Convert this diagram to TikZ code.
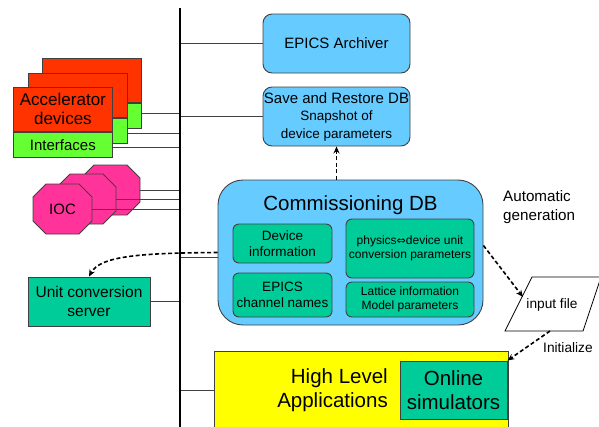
\documentclass[tikz,border=0pt]{standalone}
\usepackage{fontspec}
\setmainfont{Liberation Sans}
\newfontfamily\dejavu{DejaVu Sans}
\usetikzlibrary{arrows.meta}
\definecolor{skyb}{HTML}{66CCFF}
\definecolor{tealg}{HTML}{00CC99}
\definecolor{redd}{HTML}{FF3300}
\definecolor{lgreen}{HTML}{66FF33}
\definecolor{pinkk}{HTML}{FF3399}
\definecolor{edgec}{HTML}{404040}
\definecolor{yell}{HTML}{FFFF00}
\begin{document}
\begin{tikzpicture}[x=1pt,y=-1pt,
  bluebox/.style={draw=edgec, fill=skyb, rounded corners=9pt, line width=0.9pt, inner sep=0pt, align=center},
  greenbox/.style={draw=edgec, fill=tealg, rounded corners=6pt, line width=0.9pt, inner sep=0pt, align=center},
  sqbox/.style={draw=edgec, fill=tealg, line width=0.9pt, inner sep=0pt, align=center},
  redpart/.style={draw=edgec, fill=redd, line width=0.8pt, inner sep=0pt, minimum width=99pt, minimum height=44pt, anchor=north west, align=center},
  grnpart/.style={draw=edgec, fill=lgreen, line width=0.8pt, inner sep=0pt, minimum width=99pt, minimum height=25pt, anchor=north west, align=center},
  octo/.style={draw=edgec, fill=pinkk, line width=0.8pt},
  conn/.style={draw=edgec, line width=1pt},
  busline/.style={draw=black, line width=2.6pt},
  darr/.style={draw=black, line width=1.6pt, dash pattern=on 4pt off 2.5pt, -{Stealth[length=7pt,width=6pt]}},
  lbl/.style={inner sep=0pt, align=left}
]
\useasboundingbox (0,0) rectangle (599,426);

% bus
\coordinate (bust) at (180,8);
\coordinate (busb) at (180,432);

% accelerator device cards (back to front)
\node[redpart] (a3r) at (42,58) {};
\node[grnpart] (a3g) at (a3r.south west) {};
\node[redpart] (a2r) at (28,73) {};
\node[grnpart] (a2g) at (a2r.south west) {};
\node[redpart, font=\fontsize{17}{19}\selectfont] (a1r) at (13,87) {Accelerator\\devices};
\node[grnpart, font=\fontsize{15}{17}\selectfont] (a1g) at (a1r.south west) {Interfaces};

% IOC octagons
\foreach \ox/\oy in {81/165, 57/174, 33/184} {
  \draw[octo, shift={(\ox,\oy)}] (13,0) -- (46,0) -- (59,13) -- (59,37) -- (46,50) -- (13,50) -- (0,37) -- (0,13) -- cycle;
}
\node[inner sep=0pt, font=\fontsize{15}{17}\selectfont] (ioc) at (62.5,209) {IOC};
\coordinate (ioc3) at (140,190);
\coordinate (ioc2) at (116,199);
\coordinate (ioc1) at (92,209);

% right side boxes
\node[bluebox, minimum width=147pt, minimum height=59pt, font=\fontsize{15}{17}\selectfont] (arch) at (336.5,43.5) {EPICS Archiver};
\node[bluebox, minimum width=147pt, minimum height=59pt, font=\fontsize{13.5}{17.5}\selectfont] (save) at (336.5,116.5) {{\fontsize{15}{17.5}\selectfont Save and Restore DB}\\Snapshot of\\device parameters};

\node[bluebox, rounded corners=25pt, minimum width=265pt, minimum height=145pt] (cdb) at (350.5,252.5) {};
\node[inner sep=0pt, font=\fontsize{20.5}{23}\selectfont] (cdbt) at (350.5,205) {Commissioning DB};
\node[greenbox, minimum width=99pt, minimum height=39pt, font=\fontsize{13.5}{15.5}\selectfont] (devi) at (282.5,243.5) {Device\\information};
\node[greenbox, minimum width=99pt, minimum height=44pt, font=\fontsize{13.5}{16}\selectfont] (chan) at (282.5,295) {EPICS\\channel names};
\node[greenbox, minimum width=128pt, minimum height=59pt, font=\fontsize{12}{14.5}\selectfont] (phys) at (410,248.5) {physics{\dejavu\fontsize{11}{14.5}\selectfont ⇔}device unit\\conversion parameters};
\node[greenbox, minimum width=128pt, minimum height=35pt, font=\fontsize{12}{14.5}\selectfont] (latt) at (410,299.5) {Lattice information\\Model parameters};

\node[sqbox, minimum width=122pt, minimum height=49pt, font=\fontsize{15.5}{19}\selectfont] (ucs) at (89,301.5) {Unit conversion\\server};

\node[draw=edgec, fill=yell, line width=0.9pt, inner sep=0pt, minimum width=294pt, minimum height=90pt, anchor=north west] (hla) at (214,351) {};
\node[inner sep=0pt, align=right, anchor=east, font=\fontsize{20.5}{24}\selectfont] (hlat) at (388,390) {High Level\\Applications};
\node[sqbox, minimum width=107pt, minimum height=58pt, font=\fontsize{20.5}{24}\selectfont] (onl) at (453.5,390) {Online\\simulators};

% input file
\draw[draw=black, fill=white, line width=0.8pt] (532,277) -- (601,277) -- (583,331) -- (505,331) -- cycle;
\node[inner sep=0pt, font=\fontsize{13.7}{16}\selectfont] (inp) at (552,305) {input file};
\coordinate (inpa) at (523,297);
\coordinate (inpb) at (550,331);

\node[lbl, anchor=west, font=\fontsize{15.2}{19}\selectfont] (auto) at (503,207) {Automatic\\generation};
\node[lbl, anchor=west, font=\fontsize{13.7}{16}\selectfont] (init) at (543,348) {Initialize};

% connectors to bus
\draw[conn] (arch.west) -- (arch.west -| bust);
\draw[conn] (save.west) -- (save.west -| bust);
\draw[conn] ([yshift=2pt]a3g.east) -- ([yshift=2pt]a3g.east -| bust);
\draw[conn] ([yshift=-3pt]a2g.east) -- ([yshift=-3pt]a2g.east -| bust);
\draw[conn] ([yshift=-2.5pt]a1g.east) -- ([yshift=-2.5pt]a1g.east -| bust);
\draw[conn] (ioc3) -- (ioc3 -| bust);
\draw[conn] (ioc2) -- (ioc2 -| bust);
\draw[conn] (ioc1) -- (ioc1 -| bust);
\coordinate (cdbl) at ([yshift=-5pt]cdb.west);
\draw[conn] (cdbl) -- (cdbl -| bust);
\draw[conn] (ucs.east) -- (ucs.east -| bust);
\draw[conn] (onl.west -| hla.west) -- (onl.west -| bust);
\draw[busline] (bust) -- (busb);

% dashed arrows
\draw[darr] (save.south |- cdb.north) -- (save.south);
\coordinate (cdbd) at (cdb.west);
\draw[darr] (cdbd) .. controls (140,253) and (100,256) .. (ucs.north);
\draw[darr] ([yshift=7pt]cdb.east) -- (inpa);
\draw[darr] (inpb) -- (onl.north east);
\end{tikzpicture}
\end{document}
